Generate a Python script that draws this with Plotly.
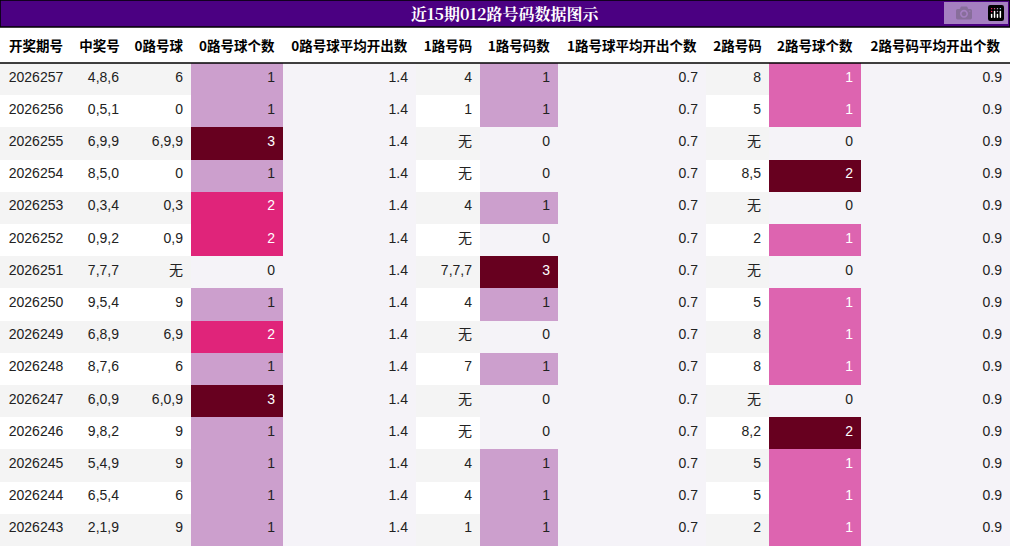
import plotly.graph_objects as go

periods = ["2026257","2026256","2026255","2026254","2026253","2026252","2026251","2026250","2026249","2026248","2026247","2026246","2026245","2026244","2026243"]
winning = ["4,8,6","0,5,1","6,9,9","8,5,0","0,3,4","0,9,2","7,7,7","9,5,4","6,8,9","8,7,6","6,0,9","9,8,2","5,4,9","6,5,4","2,1,9"]
r0_nums = ["6","0","6,9,9","0","0,3","0,9","无","9","6,9","6","6,0,9","9","9","6","9"]
r0_cnt = [1,1,3,1,2,2,0,1,2,1,3,1,1,1,1]
r0_avg = [1.4]*15
r1_nums = ["4","1","无","无","4","无","7,7,7","4","无","7","无","无","4","4","1"]
r1_cnt = [1,1,0,0,1,0,3,1,0,1,0,0,1,1,1]
r1_avg = [0.7]*15
r2_nums = ["8","5","无","8,5","无","2","无","5","8","8","无","8,2","5","5","2"]
r2_cnt = [1,1,0,2,0,1,0,1,1,1,0,2,1,1,1]
r2_avg = [0.9]*15
headers = ["开奖期号","中奖号","0路号球","0路号球个数","0路号球平均开出数","1路号码","1路号码数","1路号球平均开出个数","2路号码","2路号球个数","2路号码平均开出个数"]

n = len(periods)
stripe = ["#f4f4f4" if i % 2 == 0 else "#ffffff" for i in range(n)]
LIGHT = "#f5f3f8"
avg_bg = [LIGHT] * n

def count_colors(vals, cmap):
    fills = [cmap[v][0] if v in cmap else LIGHT for v in vals]
    fonts = ["#ffffff" if v in cmap and cmap[v][1] else "#222222" for v in vals]
    return fills, fonts

c0 = {1: ("#cc9fcd", False), 2: ("#e0247a", True), 3: ("#67001f", True)}
c1 = {1: ("#cc9fcd", False), 3: ("#67001f", True)}
c2 = {1: ("#dd64b0", True), 2: ("#67001f", True)}
f0, t0 = count_colors(r0_cnt, c0)
f1, t1 = count_colors(r1_cnt, c1)
f2, t2 = count_colors(r2_cnt, c2)

dark = ["#222222"] * n
fills = [stripe, stripe, stripe, f0, avg_bg, stripe, f1, avg_bg, stripe, f2, avg_bg]
fonts = [dark, dark, dark, t0, dark, dark, t1, dark, dark, t2, dark]
widths = [72, 55, 64, 92, 133, 64, 78, 148, 63, 92, 149]

TOP = 27 / 546
fig = go.Figure(go.Table(
    columnwidth=widths,
    header=dict(values=["<b>%s</b>" % h for h in headers], fill_color="white",
                line=dict(color="white", width=0), align="center", height=36,
                font=dict(family="Noto Sans CJK SC", size=13.5, color="black")),
    cells=dict(values=[periods, winning, r0_nums, r0_cnt, ["%.1f" % v for v in r0_avg], r1_nums, r1_cnt,
                       ["%.1f" % v for v in r1_avg], r2_nums, r2_cnt, ["%.1f" % v for v in r2_avg]],
               fill_color=fills, line=dict(width=0, color="rgba(0,0,0,0)"),
               align=["center"] + ["right"] * 10, height=32.2,
               font=dict(family="Liberation Sans, Noto Sans CJK SC", size=14, color=fonts)),
    domain=dict(x=[0, 1], y=[0, 1 - TOP]),
))
fig.update_layout(
    width=1010, height=546, margin=dict(l=0, r=0, t=0, b=0), paper_bgcolor="white",
    shapes=[dict(type="rect", xref="paper", yref="paper", x0=0, x1=1, y0=1 - TOP, y1=1,
                 fillcolor="#4b0082", line=dict(color="black", width=1.5)),
            dict(type="line", xref="paper", yref="paper", x0=0, x1=1, y0=1 - 63 / 546, y1=1 - 63 / 546,
                 line=dict(color="black", width=1.5))],
    annotations=[dict(text="<b>近15期012路号码数据图示</b>", xref="paper", yref="paper", x=0.5, y=1 - 13.5 / 546,
                      yanchor="middle", showarrow=False,
                      font=dict(family="Noto Serif CJK SC, serif", size=16, color="white"))],
)
fig.write_html("out.html", post_script="document.body.style.margin='0';document.body.style.padding='0';")
